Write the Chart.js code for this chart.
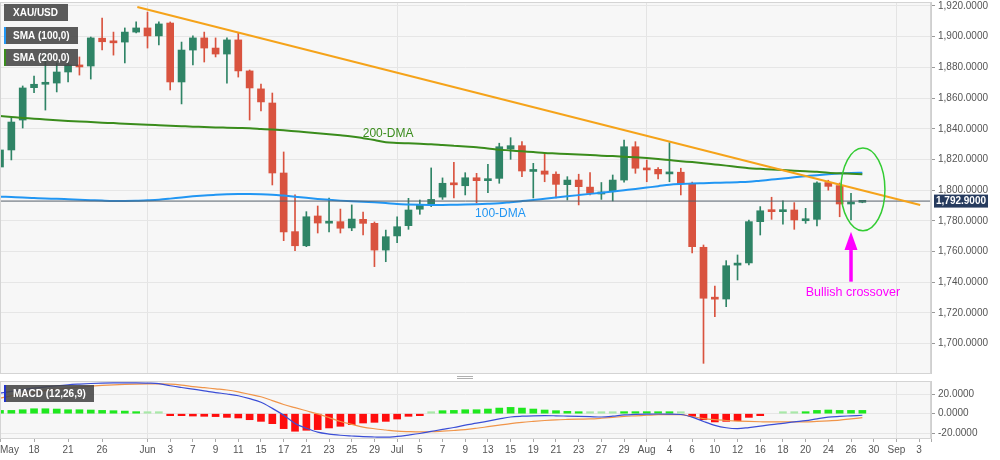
<!DOCTYPE html>
<html>
<head>
<meta charset="utf-8">
<script src="https://cdn.jsdelivr.net/npm/chart.js@4.4.0/dist/chart.umd.min.js"></script>
<style>
  body { margin: 0; background: #fff; }
  #wrap { position: relative; width: 1000px; height: 460px; }
  canvas { position: absolute; left: 0; }
  #price { top: 0; }
  #macd { top: 380px; }
</style>
</head>
<body>
<div id="wrap">
  <canvas id="price" width="1000" height="380"></canvas>
  <canvas id="macd" width="1000" height="80"></canvas>
</div>
<script>
// daily candles, May 13 .. Aug 27 2021 (one entry per trading day)
const opens = [1815.1,1826.2,1845.7,1866.8,1869.0,1869.8,1877.0,1881.6,1880.9,1899.0,
  1896.5,1896.5,1903.0,1905.7,1900.5,1908.9,1870.5,1891.3,1899.2,1892.6,
  1888.7,1897.9,1877.7,1866.0,1856.8,1811.2,1773.0,1763.8,1783.2,1778.5,
  1779.5,1775.4,1781.0,1778.4,1761.0,1770.2,1776.9,1787.6,1791.0,1795.5,
  1804.3,1802.9,1808.1,1806.2,1807.7,1826.8,1829.0,1812.2,1812.5,1810.4,
  1803.6,1806.6,1802.0,1797.5,1799.0,1806.6,1828.3,1813.8,1813.6,1810.6,
  1811.7,1804.5,1762.8,1729.6,1729.1,1751.2,1752.6,1779.5,1787.1,1786.0,
  1787.1,1780.1,1781.0,1805.0,1803.0,1791.0,1792.1];
const highs = [1828.1,1847.0,1867.9,1874.4,1889.4,1882.9,1889.4,1886.8,1899.8,1912.2,
  1903.0,1905.7,1909.6,1916.0,1909.6,1909.6,1896.5,1900.5,1903.0,1899.2,
  1899.2,1902.4,1878.3,1869.2,1863.3,1824.9,1796.9,1786.0,1789.7,1794.9,
  1787.7,1790.4,1785.8,1779.3,1774.0,1782.7,1794.7,1793.6,1814.5,1808.0,
  1818.2,1811.4,1811.0,1816.9,1830.6,1834.2,1831.6,1817.5,1824.0,1811.9,
  1808.8,1810.4,1811.4,1805.0,1809.9,1832.7,1831.6,1819.7,1814.7,1831.0,
  1814.3,1805.3,1764.3,1737.6,1754.1,1757.8,1780.6,1789.3,1795.4,1793.0,
  1791.9,1788.2,1805.5,1806.5,1804.7,1798.0,1793.3];
const lows = [1808.6,1819.7,1840.5,1863.5,1852.2,1864.0,1870.5,1875.0,1872.4,1891.3,
  1888.0,1882.9,1902.4,1892.6,1894.6,1865.3,1856.2,1881.6,1883.5,1886.8,
  1869.8,1873.7,1845.7,1851.6,1803.4,1767.1,1760.6,1763.2,1772.1,1772.8,
  1772.1,1773.6,1770.8,1750.2,1753.4,1765.8,1774.5,1784.3,1789.3,1794.0,
  1794.9,1796.9,1791.7,1798.4,1804.5,1820.1,1808.8,1794.9,1805.5,1794.9,
  1793.6,1790.4,1796.9,1794.0,1793.0,1805.3,1811.0,1805.5,1807.3,1805.5,
  1796.9,1759.1,1687.2,1717.6,1724.1,1741.5,1751.3,1770.8,1781.0,1777.8,
  1774.5,1778.4,1776.7,1800.0,1782.7,1780.6,1791.8];
const closes = [1826.2,1844.4,1866.6,1869.0,1869.5,1877.0,1881.6,1880.3,1899.2,1896.7,
  1896.0,1903.0,1905.7,1900.5,1908.3,1870.5,1891.3,1899.2,1892.6,1888.7,
  1897.9,1877.7,1866.6,1857.5,1811.2,1772.8,1763.8,1782.7,1778.6,1779.5,
  1775.2,1781.2,1778.4,1761.0,1769.7,1776.2,1787.1,1790.8,1794.0,1804.5,
  1803.5,1808.1,1806.2,1807.3,1828.3,1829.0,1812.5,1812.8,1810.4,1803.8,
  1806.6,1802.3,1798.0,1798.5,1806.6,1828.3,1814.3,1813.2,1810.6,1811.7,
  1804.2,1763.2,1729.6,1729.0,1750.8,1752.3,1779.5,1786.6,1786.0,1787.1,
  1780.6,1781.0,1804.7,1802.5,1791.0,1792.1,1792.9];

const sma100 = [1795.8,1795.5,1795.2,1794.9,1794.6,1794.4,1794.1,1793.8,1793.5,1793.2,
  1793.0,1793.0,1793.1,1793.4,1793.8,1794.5,1795.3,1796.0,1796.6,1797.1,
  1797.4,1797.5,1797.5,1797.4,1797.1,1796.5,1795.8,1795.0,1794.3,1793.7,
  1793.2,1792.8,1792.5,1792.1,1791.6,1791.0,1790.7,1790.5,1790.4,1790.4,
  1790.5,1790.6,1790.8,1791.1,1791.5,1792.2,1792.9,1793.6,1794.4,1795.2,
  1796.0,1796.8,1797.6,1798.4,1799.2,1800.0,1800.8,1801.7,1802.6,1803.6,
  1804.1,1804.4,1804.6,1804.8,1805.0,1805.2,1805.5,1806.2,1806.9,1807.6,
  1808.4,1809.1,1809.8,1810.4,1810.9,1811.2,1811.4];
const sma200 = [1848.3,1847.7,1847.1,1846.6,1846.0,1845.5,1845.1,1844.8,1844.4,1844.0,
  1843.7,1843.3,1843.0,1842.6,1842.3,1842.0,1841.7,1841.4,1841.2,1840.9,
  1840.7,1840.5,1840.3,1839.9,1839.5,1839.0,1838.4,1837.8,1837.1,1836.5,
  1835.8,1835.0,1833.9,1832.7,1831.2,1830.8,1830.5,1830.2,1829.9,1829.4,
  1828.9,1828.4,1827.9,1827.2,1826.4,1825.9,1825.3,1824.8,1824.2,1823.9,
  1823.6,1823.2,1822.9,1822.5,1822.2,1821.8,1821.4,1820.9,1820.3,1819.6,
  1818.9,1818.3,1817.6,1816.8,1816.0,1815.1,1814.3,1813.9,1813.5,1813.1,
  1812.7,1812.4,1812.0,1811.4,1811.0,1810.7,1810.4];

const macdLine = [21.2,23.0,24.8,26.4,27.6,28.8,29.8,30.5,31.1,31.5,
  31.7,31.8,31.8,31.5,31.0,28.8,27.0,25.3,23.6,21.8,
  20.3,18.5,15.5,11.8,5.5,-1.5,-10.0,-15.0,-19.0,-21.0,
  -22.2,-23.0,-23.7,-24.0,-24.2,-23.4,-22.0,-20.4,-18.3,-16.2,
  -14.2,-11.8,-9.8,-7.6,-5.4,-3.4,-2.6,-2.2,-2.0,-2.2,
  -2.5,-2.8,-3.1,-3.4,-2.6,-1.2,-0.8,-0.5,-0.3,-0.4,
  -0.8,-3.5,-8.0,-12.0,-14.5,-15.4,-14.3,-12.9,-11.2,-9.9,
  -8.4,-7.2,-5.3,-3.6,-2.8,-2.2,-1.6];
const signalLine = [16.1,18.3,20.4,22.3,23.8,25.2,26.5,27.5,28.4,29.1,
  29.7,30.2,30.5,30.7,30.8,30.5,29.5,28.0,26.8,25.6,
  24.4,22.5,20.0,17.5,13.5,9.5,6.2,3.0,-0.2,-4.0,
  -8.0,-11.0,-13.8,-15.5,-16.8,-18.0,-18.5,-18.8,-18.6,-18.0,
  -17.3,-16.4,-15.0,-13.4,-11.8,-10.2,-8.9,-7.9,-7.0,-6.3,
  -5.9,-5.6,-5.4,-4.7,-3.8,-2.8,-2.2,-1.6,-1.0,-0.9,
  -1.0,-3.0,-5.0,-6.2,-7.0,-7.6,-8.0,-8.3,-8.5,-8.5,
  -8.5,-8.5,-8.0,-7.4,-6.6,-5.4,-4.1];
const histogram = [3.4,3.4,4.1,5.1,5.1,4.8,4.1,4.1,3.8,3.4,
  3.1,2.7,2.1,1.0,1.0,-1.7,-2.0,-2.4,-2.7,-3.0,
  -3.8,-4.4,-6.2,-7.9,-10.3,-15.4,-18.1,-17.1,-16.4,-14.7,
  -13.0,-11.3,-9.6,-8.9,-7.9,-5.5,-2.7,-0.7,0.7,3.1,
  3.4,4.1,4.1,4.8,5.8,6.5,5.8,4.8,3.8,3.1,
  2.4,1.4,1.0,1.0,1.0,2.1,2.1,2.1,1.7,1.4,
  0.7,-2.7,-6.2,-8.5,-7.9,-7.2,-3.8,-1.4,0,0.8,
  0.8,1.4,3.4,3.8,3.4,3.4,3.4];

// x axis: trading-day index, 0 = May 13
const tickDays = [0,3,6,9,13,15,17,19,21,23,25,27,29,31,33,35,37,39,41,43,45,47,49,51,53,55,57,59,61,63,65,67,69,71,73,75,77,79,81];
const tickLabels = ['May','18','21','26','Jun','3','7','9','11','15','17','21','23','25','29','Jul','5','7','9','13','15','19','21','23','27','29','Aug','4','6','10','12','16','18','20','24','26','30','Sep','3'];
const monthDays = [13,35,57,79];
const priceTicks = [1700,1720,1740,1760,1780,1800,1820,1840,1860,1880,1900,1920];
const macdTicks = [-20,0,20];
const lastPrice = 1792.9;
const trendDays = [12.1, 81.1];
const trendPrices = [1919.3, 1790.4];

const X_MAX = 82.05;
const GREEN = '#2f8466', RED = '#d9533f';
const FONT = '"Liberation Sans", Arial, sans-serif';
Chart.defaults.font.family = FONT;

const pts = arr => arr.map((v, i) => ({x: i, y: v}));
const up = i => closes[i] >= opens[i];
const fmt = v => v.toLocaleString('en-US', {minimumFractionDigits: 4, maximumFractionDigits: 4});

function tag(ctx, x, y, w, h, text, strip) {
  ctx.fillStyle = 'rgba(70,70,70,0.88)';
  ctx.fillRect(x, y, w, h);
  if (strip) { ctx.fillStyle = strip; ctx.fillRect(x, y, 2, h); }
  ctx.fillStyle = '#fff';
  ctx.font = 'bold 10px ' + FONT;
  ctx.textAlign = 'left';
  ctx.textBaseline = 'middle';
  ctx.fillText(text, x + 9, y + h / 2 + 0.5);
}

function panelBg(chart) {
  const {ctx, chartArea: a} = chart;
  ctx.save();
  ctx.fillStyle = '#f7f7f7';
  ctx.fillRect(a.left, a.top, a.right - a.left, a.bottom - a.top);
  ctx.restore();
}
function panelFrame(chart) {
  const {ctx, chartArea: a} = chart;
  ctx.save();
  ctx.strokeStyle = '#d4d4d4';
  ctx.lineWidth = 1;
  ctx.strokeRect(a.left + 0.5, a.top + 0.5, a.right - a.left - 1, a.bottom - a.top);
  ctx.restore();
}

const priceOverlay = {
  id: 'priceOverlay',
  beforeDraw: panelBg,
  afterDatasetsDraw(chart) {
    const {ctx, scales: {x, y}} = chart;
    ctx.save();
    // ellipse around the crossover
    const cx = x.getPixelForValue(76.05), cy = y.getPixelForValue(1800.5);
    const rx = x.getPixelForValue(76.05 + 1.94) - cx;
    const ry = cy - y.getPixelForValue(1800.5 + 27);
    ctx.strokeStyle = '#33cc33';
    ctx.lineWidth = 1.5;
    ctx.beginPath();
    ctx.ellipse(cx, cy, rx, ry, 0, 0, Math.PI * 2);
    ctx.stroke();

    // arrow
    const ax = x.getPixelForValue(75);
    const tip = y.getPixelForValue(1773), base = y.getPixelForValue(1761), bottom = y.getPixelForValue(1740.4);
    ctx.fillStyle = '#ff00ff';
    ctx.fillRect(ax - 1.75, base, 3.5, bottom - base);
    ctx.beginPath();
    ctx.moveTo(ax, tip);
    ctx.lineTo(ax + 6.5, base);
    ctx.lineTo(ax - 6.5, base);
    ctx.closePath();
    ctx.fill();

    ctx.textAlign = 'center';
    ctx.textBaseline = 'middle';
    ctx.font = '12.5px ' + FONT;
    ctx.fillText('Bullish crossover', x.getPixelForValue(75.17), y.getPixelForValue(1733));

    ctx.font = '12px ' + FONT;
    ctx.fillStyle = '#3a8c1c';
    ctx.fillText('200-DMA', x.getPixelForValue(34.2), y.getPixelForValue(1837.1));
    ctx.fillStyle = '#2196f3';
    ctx.fillText('100-DMA', x.getPixelForValue(44.1), y.getPixelForValue(1784.5));
    ctx.restore();
  },
  afterDraw(chart) {
    const {ctx, scales: {y}} = chart;
    panelFrame(chart);
    ctx.save();
    tag(ctx, 4, 4, 64, 17, 'XAU/USD');
    tag(ctx, 4, 27, 74, 17, 'SMA (100,0)', '#2196f3');
    tag(ctx, 4, 49, 74, 17, 'SMA (200,0)', '#3a8c1c');

    // last price tag on the axis
    const py = y.getPixelForValue(lastPrice);
    ctx.fillStyle = '#263b5e';
    ctx.fillRect(934, py - 6.5, 54, 13);
    ctx.fillStyle = '#fff';
    ctx.font = 'bold 10px ' + FONT;
    ctx.textAlign = 'center';
    ctx.textBaseline = 'middle';
    ctx.fillText(fmt(lastPrice), 961, py + 0.5);

    // pane splitter handle
    ctx.fillStyle = '#b0b0b0';
    ctx.fillRect(457, 376, 16, 1);
    ctx.fillRect(457, 378, 16, 1);
    ctx.restore();
  }
};

const macdOverlay = {
  id: 'macdOverlay',
  beforeDraw: panelBg,
  afterDraw(chart) {
    panelFrame(chart);
    chart.ctx.save();
    tag(chart.ctx, 4, 5, 90, 17, 'MACD (12,26,9)', '#2233cc');
    chart.ctx.restore();
  }
};

new Chart(document.getElementById('price'), {
  type: 'bar',
  data: {
    datasets: [
      {
        label: 'wick',
        data: lows.map((l, i) => ({x: i, y: [l, highs[i]]})),
        backgroundColor: ctx => up(ctx.dataIndex) ? GREEN : RED,
        barThickness: 1,
        grouped: false,
        order: 4
      },
      {
        label: 'body',
        data: opens.map((o, i) => ({x: i, y: [o, closes[i]]})),
        backgroundColor: ctx => up(ctx.dataIndex) ? GREEN : RED,
        barThickness: 7,
        minBarLength: 2,
        grouped: false,
        order: 3
      },
      {
        type: 'line', label: 'SMA 200', data: pts(sma200),
        borderColor: '#3a8c1c', borderWidth: 2, pointRadius: 0,
        cubicInterpolationMode: 'monotone', order: 2
      },
      {
        type: 'line', label: 'SMA 100', data: pts(sma100),
        borderColor: '#2196f3', borderWidth: 2, pointRadius: 0,
        cubicInterpolationMode: 'monotone', order: 2
      },
      {
        type: 'line', label: 'trend',
        data: trendDays.map((d, i) => ({x: d, y: trendPrices[i]})),
        borderColor: '#f5a31a', borderWidth: 2, pointRadius: 0, order: 1
      },
      {
        type: 'line', label: 'last',
        data: [{x: 0, y: lastPrice}, {x: X_MAX, y: lastPrice}],
        borderColor: '#55606b', borderWidth: 1, pointRadius: 0, order: 1
      }
    ]
  },
  options: {
    responsive: false,
    animation: false,
    devicePixelRatio: 1,
    layout: {padding: {top: 2, bottom: 7, left: 0, right: 0}},
    plugins: {legend: {display: false}, tooltip: {enabled: false}},
    scales: {
      x: {
        type: 'linear', min: 0, max: X_MAX, offset: false,
        afterBuildTicks: s => { s.ticks = monthDays.map(v => ({value: v})); },
        afterFit: s => { s.height = 0; s.paddingLeft = 0; s.paddingRight = 0; },
        ticks: {display: false},
        grid: {color: '#e4e4e4', drawTicks: false, offset: false},
        border: {display: false}
      },
      y: {
        position: 'right', min: 1680.9, max: 1922.6,
        afterBuildTicks: s => { s.ticks = priceTicks.map(v => ({value: v})); },
        afterFit: s => { s.width = 69; s.paddingTop = 0; s.paddingBottom = 0; },
        ticks: {callback: v => fmt(v), color: '#555', font: {size: 10}, padding: 3},
        grid: {color: '#e6e6e6', tickLength: 4, tickColor: '#999'},
        border: {color: '#cfcfcf'}
      }
    }
  },
  plugins: [priceOverlay]
});

const histColor = ctx => {
  const v = histogram[ctx.dataIndex];
  if (v < 0) return '#ff0d0d';
  if (v === 0) return 'rgba(0,0,0,0)';
  return v < 1.2 ? '#a8e8a8' : '#1fe81f';
};

new Chart(document.getElementById('macd'), {
  type: 'bar',
  data: {
    datasets: [
      {
        label: 'hist', data: pts(histogram),
        backgroundColor: histColor, barThickness: 7, minBarLength: 2,
        grouped: false, order: 3
      },
      {
        type: 'line', label: 'signal', data: pts(signalLine),
        borderColor: '#f0954a', borderWidth: 1.2, pointRadius: 0,
        cubicInterpolationMode: 'monotone', order: 2
      },
      {
        type: 'line', label: 'macd', data: pts(macdLine),
        borderColor: '#3b4ed6', borderWidth: 1.2, pointRadius: 0,
        cubicInterpolationMode: 'monotone', order: 1
      }
    ]
  },
  options: {
    responsive: false,
    animation: false,
    devicePixelRatio: 1,
    layout: {padding: {top: 1, bottom: 0, left: 0, right: 0}},
    plugins: {legend: {display: false}, tooltip: {enabled: false}},
    scales: {
      x: {
        type: 'linear', min: 0, max: X_MAX, offset: false,
        afterBuildTicks: s => { s.ticks = tickDays.concat([X_MAX]).map(v => ({value: v})); },
        afterFit: s => { s.height = 22; s.paddingLeft = 0; s.paddingRight = 0; },
        ticks: {
          callback: (v, i) => tickLabels[i] ?? '',
          autoSkip: false, maxRotation: 0, align: 'inner',
          color: '#555', font: {size: 10}, padding: 2
        },
        grid: {
          color: c => c.tick && monthDays.includes(c.tick.value) ? '#e4e4e4' : 'rgba(0,0,0,0)',
          tickColor: '#aaa', tickLength: 4, offset: false
        },
        border: {color: '#cfcfcf'}
      },
      y: {
        position: 'right', min: -25.05, max: 33.7,
        afterBuildTicks: s => { s.ticks = macdTicks.map(v => ({value: v})); },
        afterFit: s => { s.width = 69; s.paddingTop = 0; s.paddingBottom = 0; },
        ticks: {callback: v => fmt(v), color: '#555', font: {size: 10}, padding: 3},
        grid: {color: '#e6e6e6', tickLength: 4, tickColor: '#999'},
        border: {color: '#cfcfcf'}
      }
    }
  },
  plugins: [macdOverlay]
});
</script>
</body>
</html>
